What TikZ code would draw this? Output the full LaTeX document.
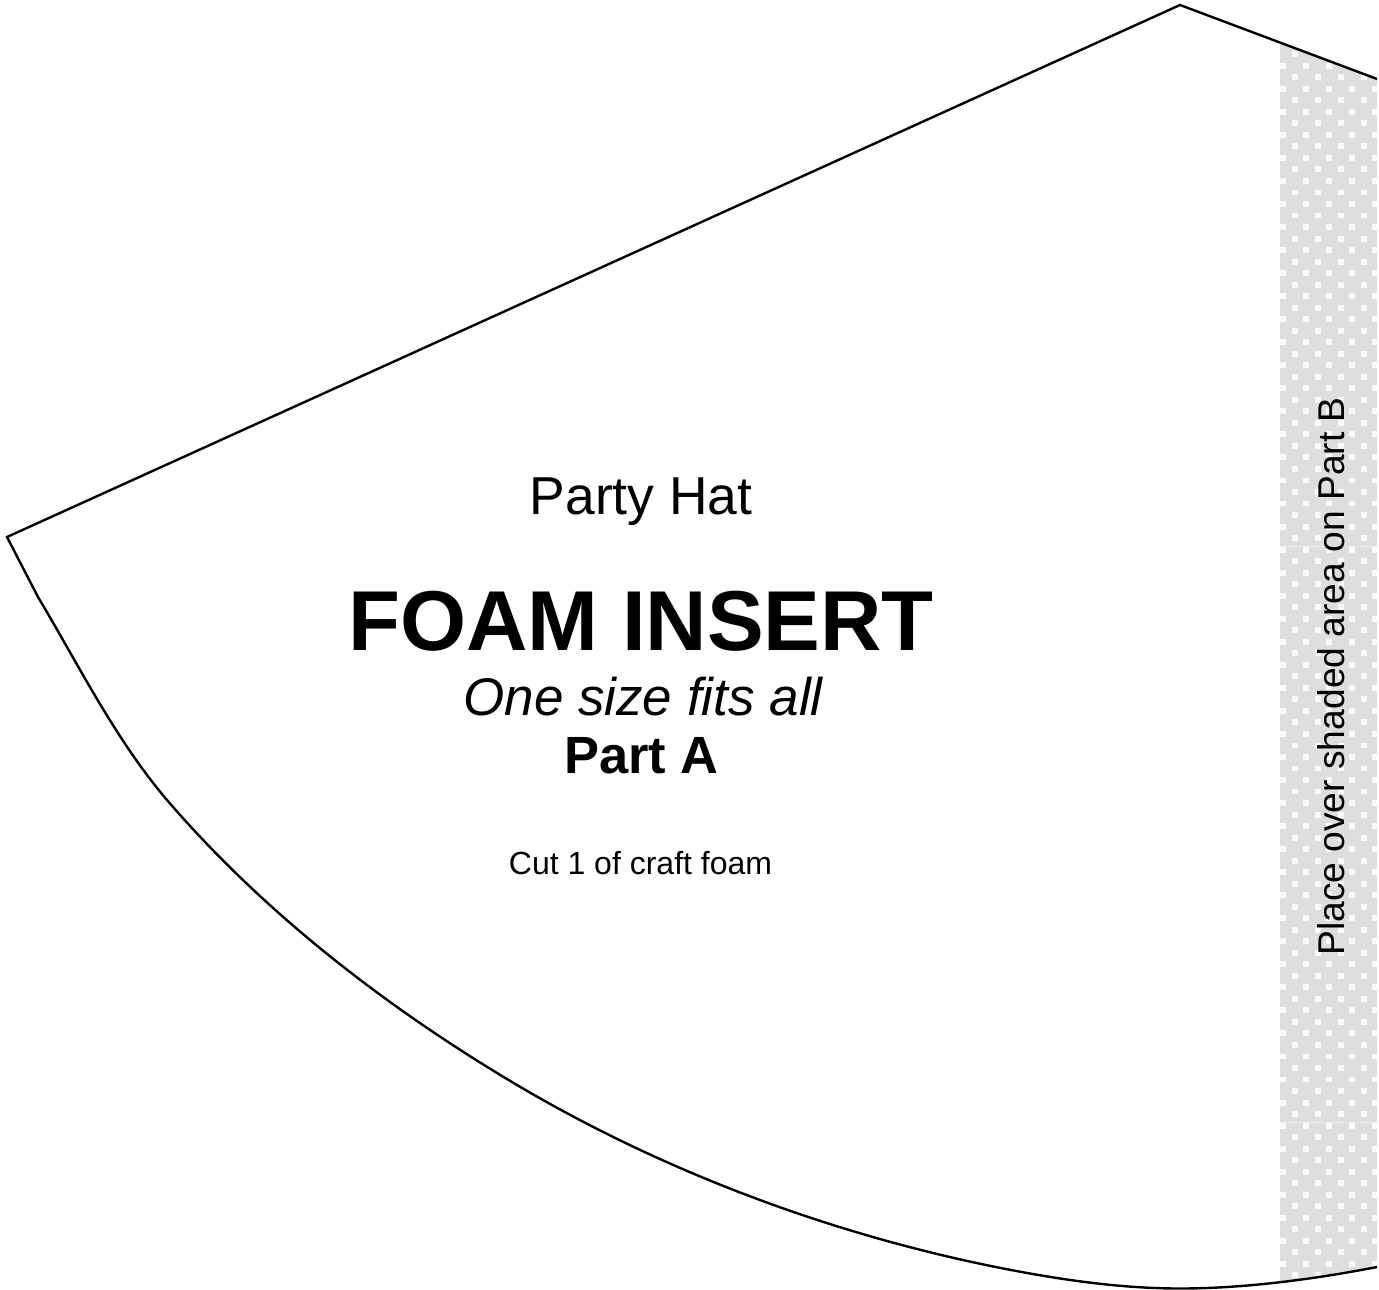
\documentclass[tikz,border=0pt]{standalone}
\usepackage{fontspec}
\setmainfont{Liberation Sans}
\definecolor{shadegrey}{HTML}{DEDEDE}
\definecolor{seamgrey}{HTML}{EEEEEE}
\definecolor{dotwhite}{HTML}{FAFAFA}
\newcommand{\hatedge}{(1377,79) -- (1180,5) -- (7,537) -- (38,597)
    .. controls (77,662) and (115,739) .. (167,800)
    .. controls (265,914) and (388,1008.5) .. (517,1085)
    .. controls (661,1170) and (823,1231) .. (986,1265)
    .. controls (1049,1278) and (1115,1288.5) .. (1180,1288.5)
    .. controls (1245,1288.5) and (1315,1279) .. (1377,1267)}
\begin{document}
\begin{tikzpicture}[x=0.5pt,y=-0.5pt,
    cutline/.style = {line width=1.2pt,line join=miter},
    base/.style = {anchor=base,inner sep=0pt}]
    \useasboundingbox (0,0) rectangle (1379,1289);

    % shaded glue strip
    \begin{scope}
        \clip \hatedge -- (1377,79);
        \fill[shadegrey] (1280,0) rectangle (1377,1289);
        \foreach \i in {0,...,4} {
            \foreach \j in {0,...,53} {
                \fill[dotwhite] ({1280.4+23*\i},{62.8+23.04*\j}) rectangle +(5.9,5.9);
                \fill[dotwhite] ({1291.9+23*\i},{51.3+23.04*\j}) rectangle +(5.9,5.9);
            }
        }
        \draw[seamgrey,line width=0.4pt] (1280,546) -- (1377,546);
        \draw[seamgrey,line width=0.4pt] (1280,1122) -- (1377,1122);
    \end{scope}

    % outline of the piece
    \draw[cutline] \hatedge;

    \node [base,font=\fontsize{26.7}{30}\selectfont] (party) at (641,514) {Party Hat};
    \node [base,font=\fontsize{42.5}{48}\selectfont\bfseries] (foam) at (641,650) {FOAM INSERT};
    \node [base,font=\fontsize{26.5}{30}\selectfont\itshape] (size) at (643,715) {One size fits all};
    \node [base,font=\fontsize{26.2}{30}\selectfont\bfseries] (part) at (641.5,773) {Part A};
    \node [base,font=\fontsize{16}{20}\selectfont] (cut) at (640.5,874) {Cut 1 of craft foam};
    \node [base,rotate=90,font=\fontsize{18.6}{22}\selectfont] (place) at (1344,676.5) {Place over shaded area on Part B};
\end{tikzpicture}
\end{document}
